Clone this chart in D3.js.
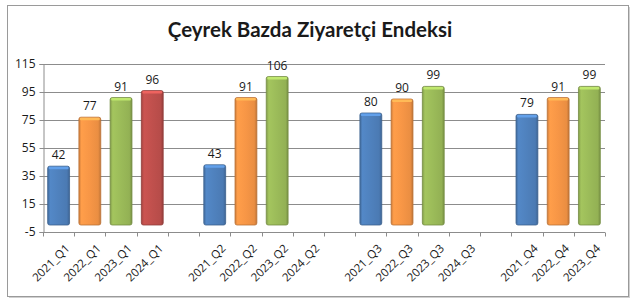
<!DOCTYPE html>
<html><head><meta charset="utf-8">
<script src="https://cdn.jsdelivr.net/npm/d3@7"></script>
<style>html,body{margin:0;padding:0;background:#fff;}</style>
</head><body>
<svg id="c" width="640" height="308"></svg>
<script>
const categories = ["2021_Q1","2022_Q1","2023_Q1","2024_Q1","",
  "2021_Q2","2022_Q2","2023_Q2","2024_Q2"," ",
  "2021_Q3","2022_Q3","2023_Q3","2024_Q3","  ",
  "2021_Q4","2022_Q4","2023_Q4"];
const values = [42,77,91,96,null, 43,91,106,null,null, 80,90,99,null,null, 79,91,99];
const yTicks = [-5,15,35,55,75,95,115];
const title = "Çeyrek Bazda Ziyaretçi Endeksi";
const yearColors = {"2021":"#4F81BD","2022":"#F79646","2023":"#9BBB59","2024":"#C0504D"};

const svg = d3.select("#c");
const defs = svg.append("defs");
Object.entries(yearColors).forEach(([y,c])=>{
  const g = defs.append("linearGradient").attr("id","g"+y).attr("x1",0).attr("x2",1).attr("y1",0).attr("y2",0);
  const cc = d3.color(c);
  g.append("stop").attr("offset","0%").attr("stop-color",cc.darker(0.5));
  g.append("stop").attr("offset","12%").attr("stop-color",cc.brighter(0.15));
  g.append("stop").attr("offset","50%").attr("stop-color",c);
  g.append("stop").attr("offset","88%").attr("stop-color",cc.darker(0.15));
  g.append("stop").attr("offset","100%").attr("stop-color",cc.darker(0.7));
});

// frame
svg.append("rect").attr("x",9).attr("y",7).attr("width",621).attr("height",291).attr("fill","#d0d0d0");
svg.append("rect").attr("x",7.5).attr("y",5.5).attr("width",621).attr("height",291).attr("fill","#fff").attr("stroke","#9a9a9a");

svg.append("text").attr("x",310).attr("y",37).attr("text-anchor","middle")
  .attr("font-family","Lato, 'Open Sans', sans-serif").attr("font-weight",700).attr("font-size",20.5)
  .attr("fill","#1a1a1a").text(title);

const m = {l:43, r:605, t:64, b:232};
const x = d3.scaleBand().domain(categories).range([m.l,m.r]).paddingInner(0.3).paddingOuter(0.15);
const y = d3.scaleLinear().domain([-5,115]).range([m.b,m.t]);

// grid
svg.append("g").selectAll("line").data(yTicks.filter(t=>t>-5)).join("line")
  .attr("x1",m.l).attr("x2",m.r).attr("y1",d=>y(d)+0.5).attr("y2",d=>y(d)+0.5)
  .attr("stroke","#8c8c8c").attr("stroke-width",1);

// y axis
const ya = svg.append("g").attr("transform",`translate(${m.l+0.5},0)`)
  .call(d3.axisLeft(y).tickValues(yTicks).tickFormat(d=>String(d)).tickSize(4).tickPadding(4));
ya.select(".domain").attr("stroke","#8c8c8c");
ya.selectAll(".tick line").attr("stroke","#8c8c8c");
ya.selectAll("text").attr("font-family","'Open Sans', sans-serif").attr("font-size",12).attr("fill","#1a1a1a");

// x axis with ticks at band boundaries
const step = x.step();
const xa = svg.append("g").attr("transform",`translate(0,${m.b+0.5})`);
xa.append("line").attr("x1",m.l).attr("x2",m.r).attr("stroke","#8c8c8c");
xa.selectAll("line.t").data(d3.range(categories.length+1)).join("line").attr("class","t")
  .attr("x1",i=>Math.round(m.l+i*step)+0.5).attr("x2",i=>Math.round(m.l+i*step)+0.5)
  .attr("y1",0).attr("y2",4).attr("stroke","#8c8c8c");
xa.selectAll("text").data(categories.filter(c=>c.trim()!=="")).join("text")
  .attr("transform",d=>`translate(${x(d)+x.bandwidth()/2+6},11) rotate(-45)`)
  .attr("text-anchor","end").attr("dy","0.7em")
  .attr("font-family","'Open Sans', sans-serif").attr("font-size",11.5).attr("fill","#1a1a1a")
  .text(d=>d);

// bars
const data = categories.map((c,i)=>({c,v:values[i]})).filter(d=>d.v!=null);
const bars = svg.append("g");
bars.selectAll("rect").data(data).join("rect")
  .attr("x",d=>x(d.c)).attr("width",x.bandwidth())
  .attr("y",d=>y(d.v)).attr("height",d=>y(0)-y(d.v))
  .attr("rx",2)
  .attr("fill",d=>`url(#g${d.c.slice(0,4)})`)
  .attr("stroke",d=>d3.color(yearColors[d.c.slice(0,4)]).darker(0.8)).attr("stroke-width",0.8);
bars.selectAll("rect.top").data(data).join("rect").attr("class","top")
  .attr("x",d=>x(d.c)+1).attr("width",x.bandwidth()-2)
  .attr("y",d=>y(d.v)+0.5).attr("height",2.5).attr("rx",1)
  .attr("fill",d=>d3.color(yearColors[d.c.slice(0,4)]).brighter(0.6));

svg.append("g").selectAll("text").data(data).join("text")
  .attr("x",d=>x(d.c)+x.bandwidth()/2).attr("y",d=>y(d.v)-7)
  .attr("text-anchor","middle").attr("font-family","'Open Sans', sans-serif").attr("font-size",12)
  .attr("fill","#1a1a1a").text(d=>d.v);
</script>
</body></html>
